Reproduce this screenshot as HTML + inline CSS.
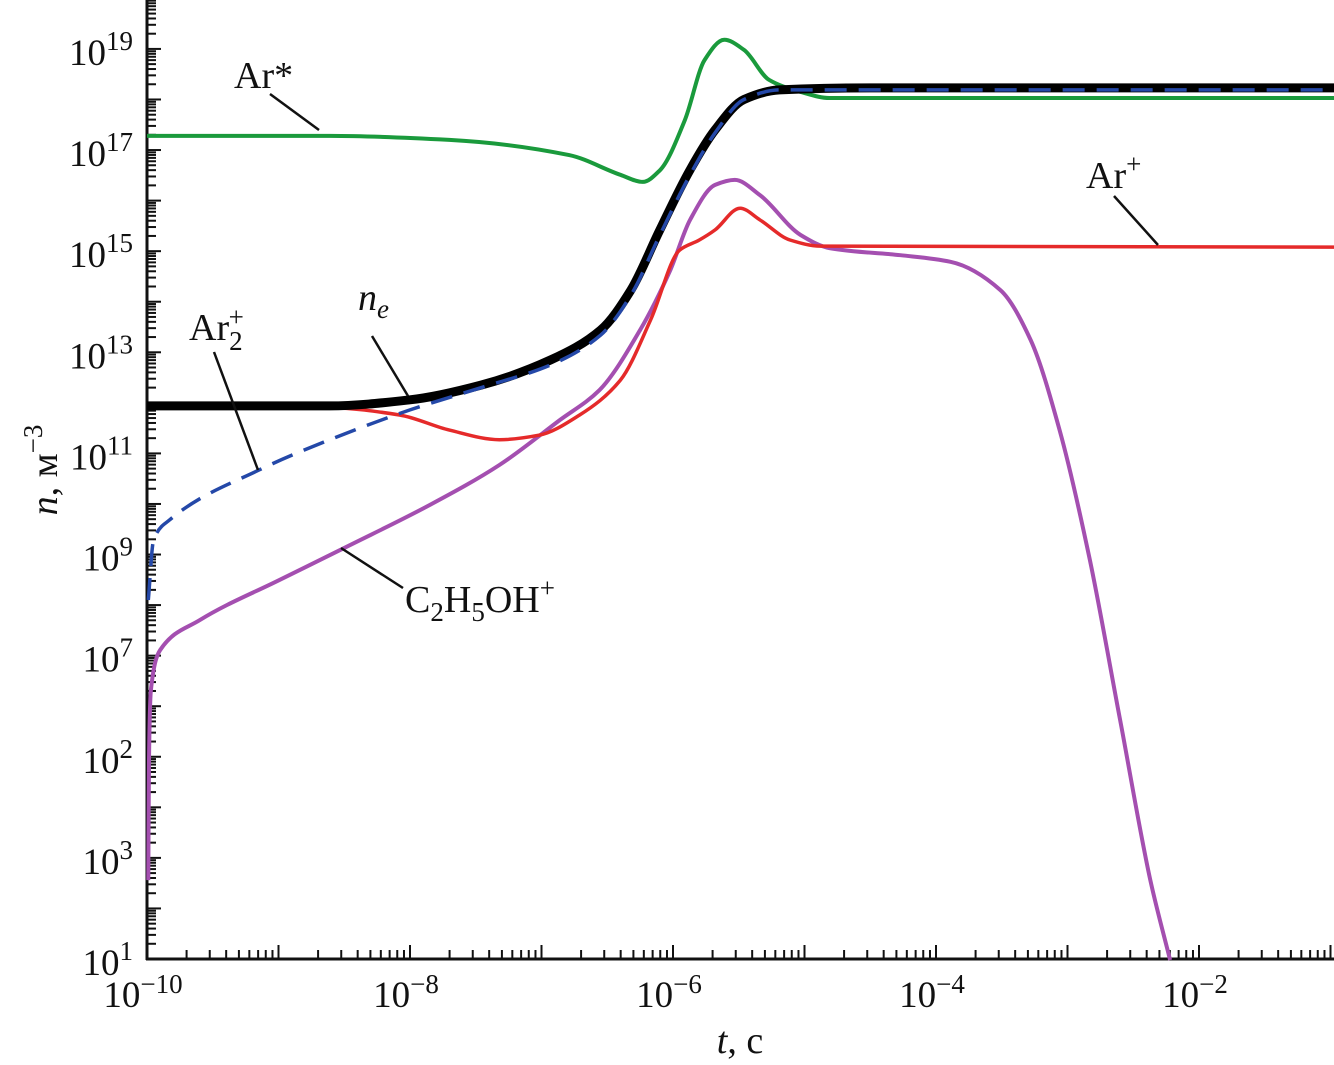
<!DOCTYPE html>
<html><head><meta charset="utf-8"><style>
html,body{margin:0;padding:0;background:#fff;}
svg{display:block;font-family:"Liberation Serif",serif;}
</style></head><body>
<svg id="chart" width="1334" height="1065" viewBox="0 0 1334 1065" xmlns="http://www.w3.org/2000/svg">
<g id="axes"></g>
<g id="series"></g>
<g id="labels"></g>
</svg>
<script>
// x in log10(t), y in decade index along the axis
const xTickExps = [-10, -8, -6, -4, -2];
const yTickPos = [1, 3, 5, 7, 9, 11, 13, 15, 17, 19];
const yTickLabels = ["1", "3", "2", "7", "9", "11", "13", "15", "17", "19"];

const arStarT = [-10, -8.61, -7.70, -6.79, -6.40, -6.23, -6.10, -5.91, -5.76, -5.61, -5.46, -5.27, -5.03, -4.81, -0.97];
const arStarN = [17.28, 17.28, 17.20, 16.90, 16.51, 16.37, 16.60, 17.59, 18.78, 19.18, 18.98, 18.39, 18.15, 18.03, 18.03];

const neT = [-10, -8.61, -8.0, -7.46, -6.93, -6.55, -6.32, -6.10, -5.87, -5.68, -5.46, -5.19, -4.5, -0.97];
const neN = [11.94, 11.94, 12.06, 12.35, 12.85, 13.44, 14.23, 15.42, 16.61, 17.40, 18.00, 18.19, 18.23, 18.23];

const ar2T = [-9.99, -9.95, -9.83, -9.15, -8.61, -8.0, -7.46, -6.93, -6.55, -6.32, -6.10, -5.87, -5.68, -5.46, -5.19, -4.5, -0.97];
const ar2N = [8.1, 9.29, 9.68, 10.67, 11.27, 11.86, 12.30, 12.75, 13.34, 14.13, 15.32, 16.51, 17.34, 18.0, 18.19, 18.19, 18.19];

const arPlusT = [-10, -8.61, -8.08, -7.70, -7.32, -7.02, -6.71, -6.40, -6.17, -5.95, -5.80, -5.68, -5.49, -5.34, -5.11, -4.88, -0.97];
const arPlusN = [11.90, 11.90, 11.76, 11.46, 11.27, 11.36, 11.76, 12.45, 13.64, 15.02, 15.22, 15.42, 15.85, 15.62, 15.22, 15.10, 15.08];

const ethT = [-9.99, -9.985, -9.97, -9.90, -9.60, -8.99, -8.50, -7.85, -7.32, -6.86, -6.56, -6.25, -6.02, -5.87, -5.68, -5.53, -5.34, -5.03, -4.81, -4.27, -3.89, -3.51, -3.28, -3.06, -2.83, -2.60, -2.37, -2.22];
const ethN = [2.56, 4.94, 6.32, 7.11, 7.70, 8.50, 9.13, 9.98, 10.77, 11.66, 12.25, 13.44, 14.63, 15.62, 16.31, 16.41, 16.11, 15.32, 15.06, 14.92, 14.79, 14.23, 13.24, 11.46, 8.89, 5.73, 2.56, 0.98];

const X0 = 147, XD = 131.5, Y0 = 959, YD = 50.56;
function sx(lt){ return X0 + (lt + 10) * XD; }
function sy(v){ return Y0 - (v - 1) * YD; }
const NS = "http://www.w3.org/2000/svg";
function mk(tag, attrs, parent){ const e = document.createElementNS(NS, tag); for (const k in attrs) e.setAttribute(k, attrs[k]); parent.appendChild(e); return e; }

const axes = document.getElementById('axes');
const yAxis = mk('line', {x1:147, y1:0, x2:147, y2:960, stroke:'#111', 'stroke-width':3}, axes);


const xAxis = mk('line', {x1:146, y1:959, x2:1334, y2:959, stroke:'#111', 'stroke-width':3}, axes);



for (let d = -10; d <= -1; d++) {
  for (let m = 1; m <= 9; m++) {
    const x = sx(d + Math.log10(m));
    if (x > 1334) continue;
    const len = m === 1 ? 14 : 9;
    const t = mk('line', {x1:x, y1:959, x2:x, y2:959 - len, stroke:'#111', 'stroke-width':2}, axes);
    
    
  }
}
xTickExps.forEach(e => {
  const tx = mk('text', {x:sx(e) - 4, y:1007, 'font-size':37, 'text-anchor':'middle', fill:'#111'}, axes);
  
  
  tx.innerHTML = '10<tspan dy="-14" font-size="27">\u2212' + (-e) + '</tspan>';
});
for (let d = 1; d <= 19; d++) {
  for (let m = 1; m <= 9; m++) {
    const y = sy(d + Math.log10(m));
    if (y < 0) continue;
    const len = m === 1 ? 14 : 9;
    const t = mk('line', {x1:147, y1:y, x2:147 + len, y2:y, stroke:'#111', 'stroke-width':2}, axes);
    
    
  }
}
{ const t = mk('line', {x1:147, y1:sy(20), x2:161, y2:sy(20), stroke:'#111', 'stroke-width':2}, axes);
  
   }
yTickPos.forEach((p, i) => {
  const tx = mk('text', {x:133, y:sy(p) + 16, 'font-size':37, 'text-anchor':'end', fill:'#111'}, axes);
  
  
  tx.innerHTML = '10<tspan dy="-15" font-size="27">' + yTickLabels[i] + '</tspan>';
});
const xt = mk('text', {x:740, y:1053, 'font-size':38, 'text-anchor':'middle', fill:'#111'}, axes);


xt.innerHTML = '<tspan font-style="italic">t</tspan>, c';
const yt = mk('text', {x:0, y:0, 'font-size':38, 'text-anchor':'middle', fill:'#111', transform:'translate(57,470) rotate(-90)'}, axes);


yt.innerHTML = '<tspan font-style="italic">n</tspan>, м<tspan dy="-15" font-size="27">\u22123</tspan>';

// monotone cubic (Fritsch–Carlson) in screen coords: no overshoot
function pathD(ts, ns){
  const xs = ts.map(sx), ys = ns.map(sy), n = xs.length;
  const dx = [], m = [];
  for (let i = 0; i < n - 1; i++) { dx.push(xs[i+1] - xs[i]); m.push((ys[i+1] - ys[i]) / dx[i]); }
  const tg = new Array(n);
  tg[0] = m[0]; tg[n-1] = m[n-2];
  for (let i = 1; i < n - 1; i++) {
    if (m[i-1] * m[i] <= 0) tg[i] = 0;
    else { const w1 = 2*dx[i] + dx[i-1], w2 = dx[i] + 2*dx[i-1]; tg[i] = (w1 + w2) / (w1 / m[i-1] + w2 / m[i]); }
  }
  let d = 'M' + xs[0].toFixed(1) + ',' + ys[0].toFixed(1);
  for (let i = 0; i < n - 1; i++) {
    const h = dx[i] / 3;
    d += 'C' + (xs[i] + h).toFixed(1) + ',' + (ys[i] + tg[i]*h).toFixed(1) + ' ' + (xs[i+1] - h).toFixed(1) + ',' + (ys[i+1] - tg[i+1]*h).toFixed(1) + ' ' + xs[i+1].toFixed(1) + ',' + ys[i+1].toFixed(1);
  }
  return d;
}
const series = document.getElementById('series');
const sGreen = mk('path', {d:pathD(arStarT, arStarN), fill:'none', stroke:'#1a9a3c', 'stroke-width':4}, series);


const sEth = mk('path', {d:pathD(ethT, ethN), fill:'none', stroke:'#a44fb0', 'stroke-width':4}, series);


const sRed = mk('path', {d:pathD(arPlusT, arPlusN), fill:'none', stroke:'#e52a2a', 'stroke-width':3.5}, series);


const sNe = mk('path', {d:pathD(neT, neN), fill:'none', stroke:'#000', 'stroke-width':9}, series);


const sAr2 = mk('path', {d:pathD(ar2T, ar2N), fill:'none', stroke:'#2448a8', 'stroke-width':3.5, 'stroke-dasharray':'22 12'}, series);



const labels = document.getElementById('labels');
function leader(x1, y1, x2, y2, name){
  const l = mk('line', {x1, y1, x2, y2, stroke:'#111', 'stroke-width':2.5}, labels);
  
  
}
function lbl(x, y, html, name){
  const t = mk('text', {x, y, 'font-size':38, fill:'#111'}, labels);
  
  
  t.innerHTML = html;
}
lbl(234, 88, 'Ar*', 'ar-star-label');
leader(270, 94, 319, 130, 'ar-star-leader');
lbl(358, 310, '<tspan font-style="italic">n</tspan><tspan dy="8" font-size="27" font-style="italic">e</tspan>', 'ne-label');
leader(372, 336, 408, 396, 'ne-leader');
lbl(189, 340, 'Ar<tspan dy="10" font-size="27">2</tspan><tspan dx="-14" dy="-24" font-size="27">+</tspan>', 'ar2-plus-label');
leader(214, 352, 258, 470, 'ar2-plus-leader');
lbl(405, 612, 'C<tspan dy="9" font-size="27">2</tspan><tspan dy="-9">H</tspan><tspan dy="9" font-size="27">5</tspan><tspan dy="-9">OH</tspan><tspan dy="-15" font-size="27">+</tspan>', 'c2h5oh-plus-label');
leader(341, 548, 403, 588, 'c2h5oh-plus-leader');
lbl(1086, 188, 'Ar<tspan dy="-15" font-size="27">+</tspan>', 'ar-plus-label');
leader(1114, 196, 1158, 245, 'ar-plus-leader');
</script>
</body></html>
